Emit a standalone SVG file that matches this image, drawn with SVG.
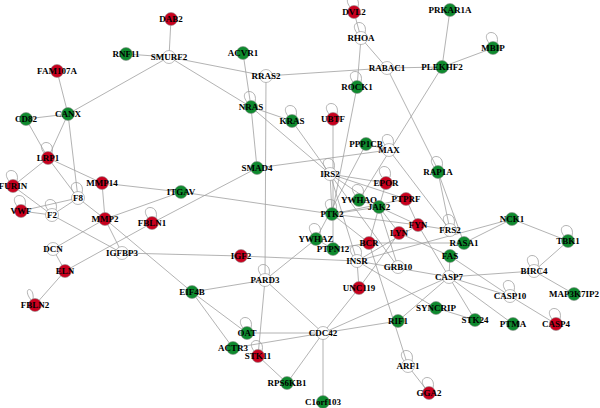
<svg xmlns="http://www.w3.org/2000/svg" width="600" height="408" viewBox="0 0 600 408">
<style>
.e{stroke:#a0a0a0;stroke-width:0.8;fill:none}
.r{fill:#c8001e;stroke:#909090;stroke-width:0.6}
.g{fill:#0e8a2e;stroke:#909090;stroke-width:0.6}
.w{fill:#ffffff;stroke:#909090;stroke-width:0.6}
text{font-family:"Liberation Serif","Times New Roman",serif;font-weight:bold;font-size:9px;fill:#000;text-anchor:middle}
</style>
<rect width="600" height="408" fill="#fff"/>
<g id="connectors">
<line class="e" x1="171" y1="19" x2="169" y2="57"/>
<line class="e" x1="126" y1="54" x2="169" y2="57"/>
<line class="e" x1="169" y1="57" x2="68" y2="114"/>
<line class="e" x1="169" y1="57" x2="266" y2="76"/>
<line class="e" x1="169" y1="57" x2="251" y2="107"/>
<line class="e" x1="57" y1="71" x2="68" y2="114"/>
<line class="e" x1="26" y1="119" x2="68" y2="114"/>
<line class="e" x1="26" y1="119" x2="48" y2="158"/>
<line class="e" x1="68" y1="114" x2="48" y2="158"/>
<line class="e" x1="68" y1="114" x2="78" y2="198"/>
<line class="e" x1="48" y1="158" x2="13" y2="186"/>
<line class="e" x1="48" y1="158" x2="102" y2="183"/>
<line class="e" x1="48" y1="158" x2="78" y2="198"/>
<line class="e" x1="13" y1="186" x2="52" y2="215"/>
<line class="e" x1="21" y1="211" x2="52" y2="215"/>
<line class="e" x1="21" y1="211" x2="78" y2="198"/>
<line class="e" x1="78" y1="198" x2="52" y2="215"/>
<line class="e" x1="78" y1="198" x2="105" y2="219"/>
<line class="e" x1="52" y1="215" x2="122" y2="253"/>
<line class="e" x1="102" y1="183" x2="105" y2="219"/>
<line class="e" x1="102" y1="183" x2="181" y2="192"/>
<line class="e" x1="105" y1="219" x2="181" y2="192"/>
<line class="e" x1="105" y1="219" x2="53" y2="249"/>
<line class="e" x1="105" y1="219" x2="122" y2="253"/>
<line class="e" x1="105" y1="219" x2="192" y2="292"/>
<line class="e" x1="53" y1="249" x2="65" y2="271"/>
<line class="e" x1="65" y1="271" x2="152" y2="223"/>
<line class="e" x1="152" y1="223" x2="257" y2="168"/>
<line class="e" x1="65" y1="271" x2="35" y2="305"/>
<line class="e" x1="122" y1="253" x2="241" y2="256"/>
<line class="e" x1="241" y1="256" x2="357" y2="261"/>
<line class="e" x1="181" y1="192" x2="332" y2="214"/>
<line class="e" x1="243" y1="53" x2="251" y2="107"/>
<line class="e" x1="251" y1="107" x2="257" y2="168"/>
<line class="e" x1="251" y1="107" x2="292" y2="121"/>
<line class="e" x1="251" y1="107" x2="330" y2="174"/>
<line class="e" x1="292" y1="121" x2="330" y2="174"/>
<line class="e" x1="266" y1="76" x2="387" y2="68"/>
<line class="e" x1="266" y1="76" x2="265" y2="280"/>
<line class="e" x1="265" y1="280" x2="258" y2="356"/>
<line class="e" x1="354" y1="12" x2="361" y2="38"/>
<line class="e" x1="361" y1="38" x2="357" y2="87"/>
<line class="e" x1="357" y1="87" x2="332" y2="214"/>
<line class="e" x1="361" y1="38" x2="387" y2="68"/>
<line class="e" x1="387" y1="68" x2="442" y2="67"/>
<line class="e" x1="387" y1="68" x2="439" y2="172"/>
<line class="e" x1="442" y1="67" x2="450" y2="10"/>
<line class="e" x1="442" y1="67" x2="493" y2="48"/>
<line class="e" x1="442" y1="67" x2="359" y2="200"/>
<line class="e" x1="257" y1="168" x2="389" y2="150"/>
<line class="e" x1="366" y1="144" x2="389" y2="150"/>
<line class="e" x1="333" y1="119" x2="333" y2="249"/>
<line class="e" x1="330" y1="174" x2="386" y2="183"/>
<line class="e" x1="330" y1="174" x2="406" y2="199"/>
<line class="e" x1="330" y1="174" x2="332" y2="214"/>
<line class="e" x1="330" y1="174" x2="379" y2="207"/>
<line class="e" x1="330" y1="174" x2="357" y2="261"/>
<line class="e" x1="330" y1="174" x2="398" y2="267"/>
<line class="e" x1="366" y1="144" x2="316" y2="239"/>
<line class="e" x1="389" y1="150" x2="450" y2="230"/>
<line class="e" x1="386" y1="183" x2="379" y2="207"/>
<line class="e" x1="359" y1="200" x2="379" y2="207"/>
<line class="e" x1="379" y1="207" x2="332" y2="214"/>
<line class="e" x1="332" y1="214" x2="406" y2="199"/>
<line class="e" x1="332" y1="214" x2="418" y2="225"/>
<line class="e" x1="406" y1="199" x2="418" y2="225"/>
<line class="e" x1="379" y1="207" x2="418" y2="225"/>
<line class="e" x1="379" y1="207" x2="399" y2="233"/>
<line class="e" x1="379" y1="207" x2="369" y2="243"/>
<line class="e" x1="379" y1="207" x2="398" y2="267"/>
<line class="e" x1="332" y1="214" x2="369" y2="243"/>
<line class="e" x1="316" y1="239" x2="333" y2="249"/>
<line class="e" x1="333" y1="249" x2="369" y2="243"/>
<line class="e" x1="369" y1="243" x2="464" y2="243"/>
<line class="e" x1="418" y1="225" x2="450" y2="230"/>
<line class="e" x1="418" y1="225" x2="357" y2="261"/>
<line class="e" x1="418" y1="225" x2="449" y2="277"/>
<line class="e" x1="399" y1="233" x2="450" y2="256"/>
<line class="e" x1="357" y1="261" x2="512" y2="219"/>
<line class="e" x1="357" y1="261" x2="449" y2="277"/>
<line class="e" x1="512" y1="219" x2="464" y2="243"/>
<line class="e" x1="512" y1="219" x2="568" y2="241"/>
<line class="e" x1="438" y1="172" x2="450" y2="230"/>
<line class="e" x1="438" y1="172" x2="464" y2="243"/>
<line class="e" x1="450" y1="256" x2="449" y2="277"/>
<line class="e" x1="450" y1="256" x2="510" y2="296"/>
<line class="e" x1="449" y1="277" x2="510" y2="296"/>
<line class="e" x1="449" y1="277" x2="534" y2="271"/>
<line class="e" x1="449" y1="277" x2="475" y2="320"/>
<line class="e" x1="449" y1="277" x2="513" y2="324"/>
<line class="e" x1="449" y1="277" x2="323" y2="333"/>
<line class="e" x1="449" y1="277" x2="398" y2="321"/>
<line class="e" x1="510" y1="296" x2="556" y2="324"/>
<line class="e" x1="534" y1="271" x2="568" y2="241"/>
<line class="e" x1="534" y1="271" x2="574" y2="294"/>
<line class="e" x1="436" y1="308" x2="475" y2="320"/>
<line class="e" x1="436" y1="308" x2="357" y2="261"/>
<line class="e" x1="359" y1="288" x2="323" y2="333"/>
<line class="e" x1="359" y1="288" x2="357" y2="261"/>
<line class="e" x1="359" y1="288" x2="399" y2="233"/>
<line class="e" x1="323" y1="333" x2="398" y2="321"/>
<line class="e" x1="323" y1="333" x2="247" y2="333"/>
<line class="e" x1="323" y1="333" x2="265" y2="280"/>
<line class="e" x1="323" y1="333" x2="287" y2="383"/>
<line class="e" x1="323" y1="333" x2="323" y2="402"/>
<line class="e" x1="323" y1="333" x2="233" y2="348"/>
<line class="e" x1="265" y1="280" x2="192" y2="292"/>
<line class="e" x1="265" y1="280" x2="316" y2="239"/>
<line class="e" x1="192" y1="292" x2="247" y2="333"/>
<line class="e" x1="192" y1="292" x2="233" y2="348"/>
<line class="e" x1="258" y1="356" x2="287" y2="383"/>
<line class="e" x1="408" y1="366" x2="429" y2="393"/>
<line class="e" x1="408" y1="366" x2="369" y2="243"/>
<g id="loops">
<path class="e" d="M350,7 C340,-6 362,-8 358,7"/>
<path class="e" d="M357,33 C347,20 369,18 365,33"/>
<path class="e" d="M353,82 C343,69 365,67 361,82"/>
<path class="e" d="M247,102 C237,89 259,87 255,102"/>
<path class="e" d="M288,116 C278,103 300,101 296,116"/>
<path class="e" d="M329,114 C319,101 341,99 337,114"/>
<path class="e" d="M489,43 C479,30 501,28 497,43"/>
<path class="e" d="M44,153 C34,140 56,138 52,153"/>
<path class="e" d="M9,181 C-1,168 21,166 17,181"/>
<path class="e" d="M74,193 C64,180 86,178 82,193"/>
<path class="e" d="M17,206 C7,193 29,191 25,206"/>
<path class="e" d="M48,210 C38,197 60,195 56,210"/>
<path class="e" d="M148,218 C138,205 160,203 156,218"/>
<path class="e" d="M31,300 C21,287 35,285 33,300"/>
<path class="e" d="M326,169 C316,156 338,154 334,169"/>
<path class="e" d="M382,177 C372,164 394,162 390,177"/>
<path class="e" d="M355,195 C345,182 367,180 363,195"/>
<path class="e" d="M328,210 C318,197 340,195 336,210"/>
<path class="e" d="M312,234 C302,221 324,219 320,234"/>
<path class="e" d="M353,256 C343,243 365,241 361,256"/>
<path class="e" d="M385,145 C375,132 397,130 393,145"/>
<path class="e" d="M446,225 C436,212 458,210 454,225"/>
<path class="e" d="M434,167 C424,154 446,152 442,167"/>
<path class="e" d="M564,236 C554,223 576,221 572,236"/>
<path class="e" d="M530,266 C520,253 542,251 538,266"/>
<path class="e" d="M506,291 C496,278 518,276 514,291"/>
<path class="e" d="M552,319 C542,306 564,304 560,319"/>
<path class="e" d="M404,361 C394,348 416,346 412,361"/>
<path class="e" d="M425,388 C415,375 437,373 433,388"/>
<path class="e" d="M261,275 C251,262 273,260 269,275"/>
<path class="e" d="M243,328 C233,315 255,313 251,328"/>
<path class="e" d="M254,351 C244,338 266,336 262,351"/>
</g>
</g>
<g id="n-DAB2"><circle class="r" cx="171" cy="19" r="6.5"/><text x="171" y="22">DAB2</text></g>
<g id="n-RNF11"><circle class="g" cx="126" cy="54" r="6.5"/><text x="126" y="57">RNF11</text></g>
<g id="n-SMURF2"><circle class="w" cx="169" cy="57" r="6.5"/><text x="169" y="60">SMURF2</text></g>
<g id="n-FAM107A"><circle class="r" cx="57" cy="71" r="6.5"/><text x="57" y="74">FAM107A</text></g>
<g id="n-CANX"><circle class="g" cx="68" cy="114" r="6.5"/><text x="68" y="117">CANX</text></g>
<g id="n-CD82"><circle class="g" cx="26" cy="119" r="6.5"/><text x="26" y="122">CD82</text></g>
<g id="n-DVL2"><circle class="r" cx="354" cy="12" r="6.5"/><text x="354" y="15">DVL2</text></g>
<g id="n-RHOA"><circle class="w" cx="361" cy="38" r="6.5"/><text x="361" y="41">RHOA</text></g>
<g id="n-ACVR1"><circle class="g" cx="243" cy="53" r="6.5"/><text x="243" y="56">ACVR1</text></g>
<g id="n-RRAS2"><circle class="w" cx="266" cy="76" r="6.5"/><text x="266" y="79">RRAS2</text></g>
<g id="n-RABAC1"><circle class="w" cx="387" cy="68" r="6.5"/><text x="387" y="71">RABAC1</text></g>
<g id="n-ROCK1"><circle class="g" cx="357" cy="87" r="6.5"/><text x="357" y="90">ROCK1</text></g>
<g id="n-NRAS"><circle class="g" cx="251" cy="107" r="6.5"/><text x="251" y="110">NRAS</text></g>
<g id="n-KRAS"><circle class="g" cx="292" cy="121" r="6.5"/><text x="292" y="124">KRAS</text></g>
<g id="n-UBTF"><circle class="r" cx="333" cy="119" r="6.5"/><text x="333" y="122">UBTF</text></g>
<g id="n-PRKAR1A"><circle class="g" cx="450" cy="10" r="6.5"/><text x="450" y="13">PRKAR1A</text></g>
<g id="n-MBIP"><circle class="g" cx="493" cy="48" r="6.5"/><text x="493" y="51">MBIP</text></g>
<g id="n-PLEKHF2"><circle class="g" cx="442" cy="67" r="6.5"/><text x="442" y="70">PLEKHF2</text></g>
<g id="n-LRP1"><circle class="r" cx="48" cy="158" r="6.5"/><text x="48" y="161">LRP1</text></g>
<g id="n-FURIN"><circle class="r" cx="13" cy="186" r="6.5"/><text x="13" y="189">FURIN</text></g>
<g id="n-MMP14"><circle class="r" cx="102" cy="183" r="6.5"/><text x="102" y="186">MMP14</text></g>
<g id="n-ITGAV"><circle class="g" cx="181" cy="192" r="6.5"/><text x="181" y="195">ITGAV</text></g>
<g id="n-F8"><circle class="w" cx="78" cy="198" r="6.5"/><text x="78" y="201">F8</text></g>
<g id="n-VWF"><circle class="r" cx="21" cy="211" r="6.5"/><text x="21" y="214">VWF</text></g>
<g id="n-F2"><circle class="w" cx="52" cy="215" r="6.5"/><text x="52" y="218">F2</text></g>
<g id="n-MMP2"><circle class="r" cx="105" cy="219" r="6.5"/><text x="105" y="222">MMP2</text></g>
<g id="n-FBLN1"><circle class="r" cx="152" cy="223" r="6.5"/><text x="152" y="226">FBLN1</text></g>
<g id="n-DCN"><circle class="w" cx="53" cy="249" r="6.5"/><text x="53" y="252">DCN</text></g>
<g id="n-IGFBP3"><circle class="w" cx="122" cy="253" r="6.5"/><text x="122" y="256">IGFBP3</text></g>
<g id="n-ELN"><circle class="r" cx="65" cy="271" r="6.5"/><text x="65" y="274">ELN</text></g>
<g id="n-FBLN2"><circle class="r" cx="35" cy="305" r="6.5"/><text x="35" y="308">FBLN2</text></g>
<g id="n-SMAD4"><circle class="g" cx="257" cy="168" r="6.5"/><text x="257" y="171">SMAD4</text></g>
<g id="n-PPP1CB"><circle class="g" cx="366" cy="144" r="6.5"/><text x="366" y="147">PPP1CB</text></g>
<g id="n-MAX"><circle class="w" cx="389" cy="150" r="6.5"/><text x="389" y="153">MAX</text></g>
<g id="n-IRS2"><circle class="w" cx="330" cy="174" r="6.5"/><text x="330" y="177">IRS2</text></g>
<g id="n-EPOR"><circle class="r" cx="386" cy="183" r="6.5"/><text x="386" y="186">EPOR</text></g>
<g id="n-YWHAQ"><circle class="g" cx="359" cy="200" r="6.5"/><text x="359" y="203">YWHAQ</text></g>
<g id="n-JAK2"><circle class="g" cx="379" cy="207" r="6.5"/><text x="379" y="210">JAK2</text></g>
<g id="n-PTK2"><circle class="g" cx="332" cy="214" r="6.5"/><text x="332" y="217">PTK2</text></g>
<g id="n-YWHAZ"><circle class="g" cx="316" cy="239" r="6.5"/><text x="316" y="242">YWHAZ</text></g>
<g id="n-PTPN12"><circle class="g" cx="333" cy="249" r="6.5"/><text x="333" y="252">PTPN12</text></g>
<g id="n-BCR"><circle class="r" cx="369" cy="243" r="6.5"/><text x="369" y="246">BCR</text></g>
<g id="n-IGF2"><circle class="r" cx="241" cy="256" r="6.5"/><text x="241" y="259">IGF2</text></g>
<g id="n-INSR"><circle class="w" cx="357" cy="261" r="6.5"/><text x="357" y="264">INSR</text></g>
<g id="n-GRB10"><circle class="w" cx="398" cy="267" r="6.5"/><text x="398" y="270">GRB10</text></g>
<g id="n-LYN"><circle class="r" cx="399" cy="233" r="6.5"/><text x="399" y="236">LYN</text></g>
<g id="n-FYN"><circle class="r" cx="418" cy="225" r="6.5"/><text x="418" y="228">FYN</text></g>
<g id="n-PTPRF"><circle class="r" cx="406" cy="199" r="6.5"/><text x="406" y="202">PTPRF</text></g>
<g id="n-FRS2"><circle class="w" cx="450" cy="230" r="6.5"/><text x="450" y="233">FRS2</text></g>
<g id="n-RASA1"><circle class="g" cx="464" cy="243" r="6.5"/><text x="464" y="246">RASA1</text></g>
<g id="n-FAS"><circle class="g" cx="450" cy="256" r="6.5"/><text x="450" y="259">FAS</text></g>
<g id="n-RAP1A"><circle class="g" cx="438" cy="172" r="6.5"/><text x="438" y="175">RAP1A</text></g>
<g id="n-NCK1"><circle class="g" cx="512" cy="219" r="6.5"/><text x="512" y="222">NCK1</text></g>
<g id="n-TBK1"><circle class="g" cx="568" cy="241" r="6.5"/><text x="568" y="244">TBK1</text></g>
<g id="n-BIRC4"><circle class="w" cx="534" cy="271" r="6.5"/><text x="534" y="274">BIRC4</text></g>
<g id="n-CASP7"><circle class="w" cx="449" cy="277" r="6.5"/><text x="449" y="280">CASP7</text></g>
<g id="n-CASP10"><circle class="w" cx="510" cy="296" r="6.5"/><text x="510" y="299">CASP10</text></g>
<g id="n-MAP3K7IP2"><circle class="g" cx="574" cy="294" r="6.5"/><text x="574" y="297">MAP3K7IP2</text></g>
<g id="n-SYNCRIP"><circle class="g" cx="436" cy="308" r="6.5"/><text x="436" y="311">SYNCRIP</text></g>
<g id="n-STK24"><circle class="g" cx="475" cy="320" r="6.5"/><text x="475" y="323">STK24</text></g>
<g id="n-PTMA"><circle class="g" cx="513" cy="324" r="6.5"/><text x="513" y="327">PTMA</text></g>
<g id="n-CASP4"><circle class="r" cx="556" cy="324" r="6.5"/><text x="556" y="327">CASP4</text></g>
<g id="n-RIF1"><circle class="g" cx="398" cy="321" r="6.5"/><text x="398" y="324">RIF1</text></g>
<g id="n-ARF1"><circle class="w" cx="408" cy="366" r="6.5"/><text x="408" y="369">ARF1</text></g>
<g id="n-GGA2"><circle class="r" cx="429" cy="393" r="6.5"/><text x="429" y="396">GGA2</text></g>
<g id="n-UNC119"><circle class="r" cx="359" cy="288" r="6.5"/><text x="359" y="291">UNC119</text></g>
<g id="n-CDC42"><circle class="w" cx="323" cy="333" r="6.5"/><text x="323" y="336">CDC42</text></g>
<g id="n-PARD3"><circle class="w" cx="265" cy="280" r="6.5"/><text x="265" y="283">PARD3</text></g>
<g id="n-EIF4B"><circle class="g" cx="192" cy="292" r="6.5"/><text x="192" y="295">EIF4B</text></g>
<g id="n-OAT"><circle class="g" cx="247" cy="333" r="6.5"/><text x="247" y="336">OAT</text></g>
<g id="n-ACTR3"><circle class="g" cx="233" cy="348" r="6.5"/><text x="233" y="351">ACTR3</text></g>
<g id="n-STK11"><circle class="r" cx="258" cy="356" r="6.5"/><text x="258" y="359">STK11</text></g>
<g id="n-RPS6KB1"><circle class="g" cx="287" cy="383" r="6.5"/><text x="287" y="386">RPS6KB1</text></g>
<g id="n-C1orf103"><circle class="g" cx="323" cy="402" r="6.5"/><text x="323" y="405">C1orf103</text></g>
</svg>
